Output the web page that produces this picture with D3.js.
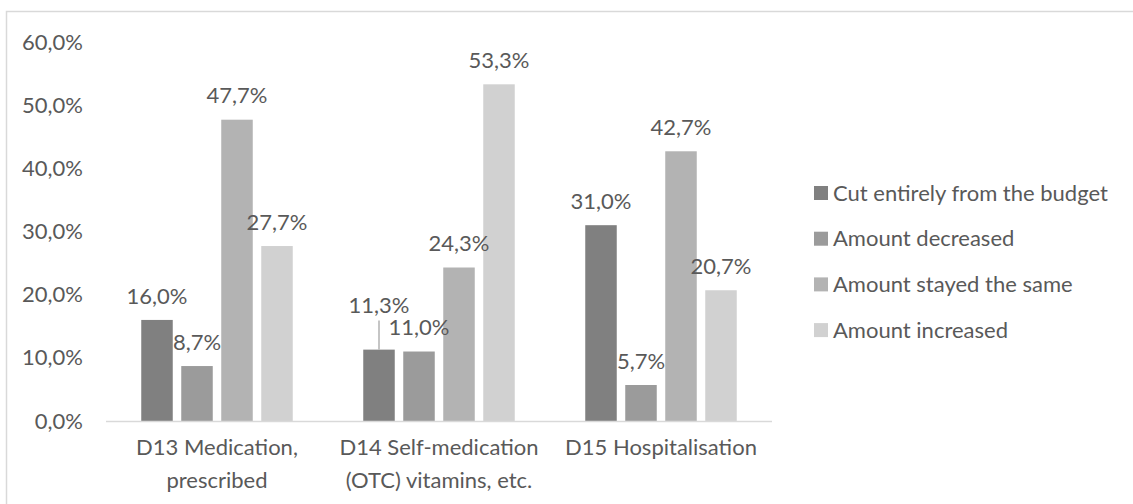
<!DOCTYPE html>
<html>
<head>
<meta charset="utf-8">
<script src="https://cdn.jsdelivr.net/npm/d3@7/dist/d3.min.js"></script>
<style>
  html, body { margin: 0; padding: 0; background: #fff; }
  svg { display: block; }
  text { font-family: "Lato", "Liberation Sans", sans-serif; fill: #595959; }
</style>
</head>
<body>
<svg id="chart" width="1133" height="504"></svg>
<script>
// Budget changes by spending area
const categories = [
  ["D13 Medication,", "prescribed"],
  ["D14 Self-medication", "(OTC) vitamins, etc."],
  ["D15 Hospitalisation"]
];
const seriesNames = [
  "Cut entirely from the budget",
  "Amount decreased",
  "Amount stayed the same",
  "Amount increased"
];
const seriesColors = ["#808080", "#9b9b9b", "#b3b3b3", "#d1d1d1"];
// values[series][category], in percent
const cutEntirely   = [16.0, 11.3, 31.0];
const decreased     = [8.7, 11.0, 5.7];
const stayedSame    = [47.7, 24.3, 42.7];
const increased     = [27.7, 53.3, 20.7];
const yTicks = [0, 10, 20, 30, 40, 50, 60];

const values = [cutEntirely, decreased, stayedSame, increased];
const fmt = v => v.toFixed(1).replace(".", ",") + "%";

const svg = d3.select("#chart");
const fontSize = 22;

// outer frame (top and left edges visible)
svg.append("rect")
  .attr("x", 6.5).attr("y", 11.5)
  .attr("width", 1140).attr("height", 500)
  .attr("fill", "none").attr("stroke", "#d9d9d9").attr("stroke-width", 1.5);

const plot = { left: 106, right: 772, top: 42, bottom: 421 };

const x0 = d3.scaleBand()
  .domain(d3.range(categories.length))
  .range([plot.left, plot.right])
  .paddingInner(0).paddingOuter(0);

// bars inside a group: step 40px, bar 31.5px
const groupWidth = 151.5;
const x1 = d3.scaleBand()
  .domain(d3.range(seriesNames.length))
  .range([0, groupWidth])
  .paddingInner(8.5 / 40)
  .paddingOuter(0);

const groupOffset = (x0.bandwidth() - groupWidth) / 2;

const y = d3.scaleLinear().domain([0, 60]).range([plot.bottom, plot.top]);

// y axis labels
const yAxis = d3.axisLeft(y).tickValues(yTicks).tickFormat(fmt).tickSize(0).tickPadding(0);
const yg = svg.append("g").attr("transform", "translate(83,0)").call(yAxis);
yg.select(".domain").remove();
yg.selectAll("text").style("font-size", fontSize + "px").attr("fill", "#595959")
  .style("font-family", "Lato, 'Liberation Sans', sans-serif");

// bars
const bars = svg.append("g");
values.forEach((vals, s) => {
  bars.selectAll(null)
    .data(vals)
    .enter()
    .append("rect")
    .attr("x", (d, c) => x0(c) + groupOffset + x1(s))
    .attr("y", d => y(d))
    .attr("width", x1.bandwidth())
    .attr("height", d => y(0) - y(d))
    .attr("fill", seriesColors[s]);
});

// baseline
svg.append("line")
  .attr("x1", plot.left).attr("x2", plot.right)
  .attr("y1", plot.bottom + 0.5).attr("y2", plot.bottom + 0.5)
  .attr("stroke", "#d9d9d9").attr("stroke-width", 1.5);

// data labels
const labels = svg.append("g");
values.forEach((vals, s) => {
  vals.forEach((v, c) => {
    const cx = x0(c) + groupOffset + x1(s) + x1.bandwidth() / 2;
    // the 11,3% label sits higher with a leader line to its bar
    const lifted = (s === 0 && c === 1);
    const lift = lifted ? 44 : 24;
    if (lifted) {
      labels.append("line")
        .attr("x1", cx).attr("x2", cx)
        .attr("y1", y(v) - 29).attr("y2", y(v))
        .attr("stroke", "#a6a6a6").attr("stroke-width", 1.3);
    }
    labels.append("text")
      .attr("x", cx)
      .attr("y", y(v) - lift)
      .attr("dy", "0.35em")
      .attr("text-anchor", "middle")
      .style("font-size", fontSize + "px")
      .text(fmt(v));
  });
});

// category labels
const cats = svg.append("g");
categories.forEach((lines, c) => {
  lines.forEach((ln, i) => {
    cats.append("text")
      .attr("x", x0(c) + x0.bandwidth() / 2)
      .attr("y", 447 + i * 33)
      .attr("dy", "0.35em")
      .attr("text-anchor", "middle")
      .style("font-size", fontSize + "px")
      .text(ln);
  });
});

// legend
const legend = svg.append("g");
seriesNames.forEach((name, i) => {
  const ly = 193 + i * 45.7;
  legend.append("rect")
    .attr("x", 814).attr("y", ly - 7)
    .attr("width", 14).attr("height", 14)
    .attr("fill", seriesColors[i]);
  legend.append("text")
    .attr("x", 833).attr("y", ly)
    .attr("dy", "0.35em")
    .style("font-size", fontSize + "px")
    .text(name);
});
</script>
</body>
</html>
